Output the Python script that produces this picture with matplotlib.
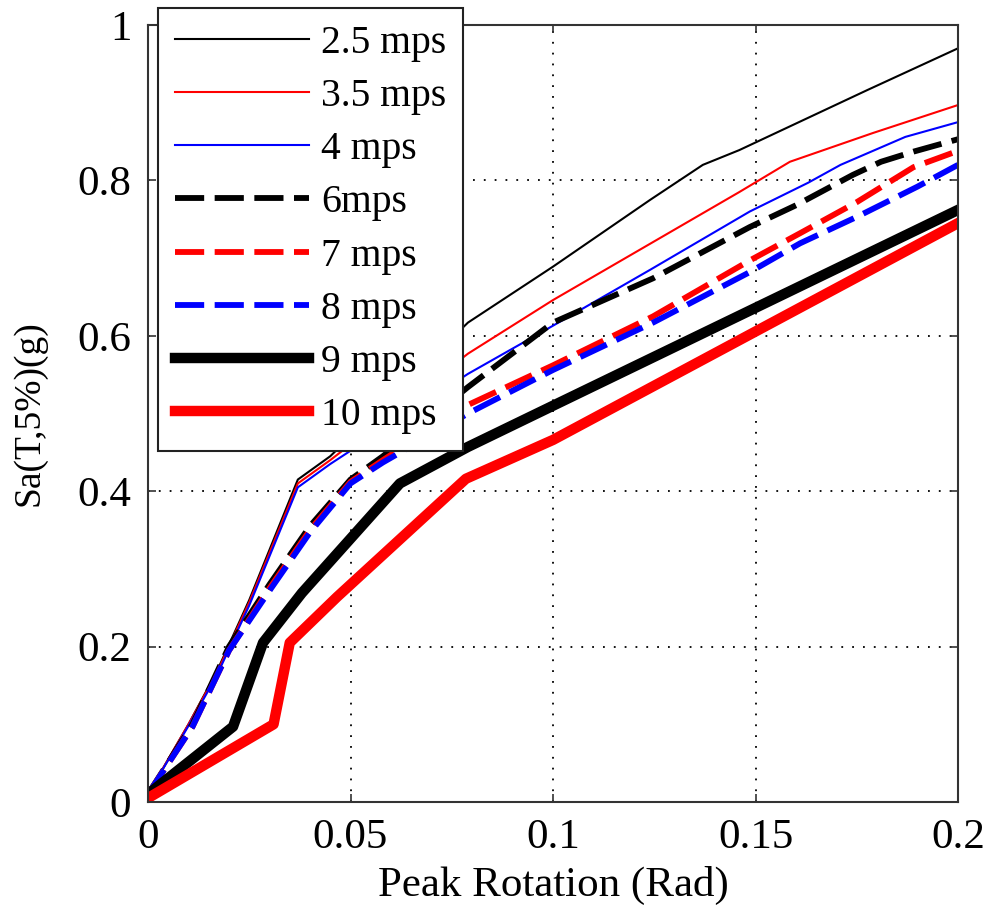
import matplotlib
matplotlib.use("Agg")
import matplotlib.pyplot as plt

plt.rcParams['font.family'] = ['Liberation Serif', 'DejaVu Serif']

# Sa(T,5%) vs peak rotation, one curve per wind speed
x_25 = [0, 0.01, 0.017, 0.025, 0.037, 0.045, 0.079, 0.1, 0.124, 0.137, 0.146, 0.1775, 0.2]
y_25 = [0.01, 0.1, 0.168, 0.26, 0.415, 0.445, 0.617, 0.689, 0.775, 0.82, 0.839, 0.916, 0.97]

x_35 = [0, 0.01, 0.017, 0.025, 0.037, 0.045, 0.079, 0.1, 0.146, 0.1585, 0.179, 0.2]
y_35 = [0.01, 0.1, 0.166, 0.257, 0.41, 0.44, 0.577, 0.646, 0.785, 0.824, 0.861, 0.897]

x_4 = [0, 0.01, 0.017, 0.025, 0.037, 0.045, 0.079, 0.1, 0.124, 0.1486, 0.163, 0.171, 0.187, 0.2]
y_4 = [0.01, 0.098, 0.163, 0.253, 0.405, 0.435, 0.551, 0.613, 0.685, 0.76, 0.797, 0.82, 0.856, 0.875]

x_6 = [0, 0.011, 0.02, 0.03, 0.04, 0.05, 0.058, 0.079, 0.1, 0.1247, 0.1486, 0.16, 0.174, 0.181, 0.189, 0.2]
y_6 = [0.01, 0.1, 0.2, 0.28, 0.355, 0.415, 0.445, 0.534, 0.617, 0.674, 0.74, 0.768, 0.807, 0.824, 0.837, 0.853]

x_7 = [0, 0.011, 0.02, 0.03, 0.04, 0.05, 0.058, 0.079, 0.1, 0.1247, 0.1486, 0.161, 0.175, 0.189, 0.2]
y_7 = [0.01, 0.097, 0.195, 0.275, 0.35, 0.412, 0.44, 0.511, 0.562, 0.625, 0.697, 0.732, 0.772, 0.817, 0.838]

x_8 = [0, 0.011, 0.02, 0.03, 0.04, 0.05, 0.058, 0.079, 0.1, 0.1247, 0.1486, 0.161, 0.175, 0.19, 0.2]
y_8 = [0.01, 0.097, 0.195, 0.272, 0.347, 0.41, 0.437, 0.50, 0.556, 0.617, 0.682, 0.719, 0.753, 0.792, 0.82]

x_9 = [0, 0.021, 0.0284, 0.038, 0.0622, 0.079, 0.1, 0.2]
y_9 = [0.01, 0.097, 0.205, 0.269, 0.41, 0.457, 0.51, 0.762]

x_10 = [0, 0.031, 0.035, 0.0467, 0.0785, 0.1, 0.2]
y_10 = [0.005, 0.10, 0.205, 0.264, 0.416, 0.466, 0.745]

labels = ['2.5 mps', '3.5 mps', '4 mps', '6mps', '7 mps', '8 mps', '9 mps', '10 mps']
xticks = [0, 0.05, 0.1, 0.15, 0.2]
xtick_labels = ['0', '0.05', '0.1', '0.15', '0.2']
yticks = [0, 0.2, 0.4, 0.6, 0.8, 1.0]
ytick_labels = ['0', '0.2', '0.4', '0.6', '0.8', '1']

fig = plt.figure(figsize=(9.9, 9.23), dpi=100)
ax = fig.add_axes([148/990, 1-802/923, (958-148)/990, (802-25)/923])

dash = (5.0, 1.8)
ax.plot(x_25, y_25, color='k', lw=1.5, label=labels[0])
ax.plot(x_35, y_35, color='#ff0000', lw=1.5, label=labels[1])
ax.plot(x_4, y_4, color='#0000ff', lw=1.5, label=labels[2])
ax.plot(x_6, y_6, color='k', lw=4.2, dashes=dash, label=labels[3])
ax.plot(x_7, y_7, color='#ff0000', lw=4.2, dashes=dash, label=labels[4])
ax.plot(x_8, y_8, color='#0000ff', lw=4.2, dashes=dash, label=labels[5])
ax.plot(x_9, y_9, color='k', lw=7.5, label=labels[6])
ax.plot(x_10, y_10, color='#ff0000', lw=7.5, label=labels[7])

ax.set_xlim(0, 0.2)
ax.set_ylim(0, 1)
ax.set_xticks(xticks)
ax.set_xticklabels(xtick_labels)
ax.set_yticks(yticks)
ax.set_yticklabels(ytick_labels)
ax.tick_params(direction='in', top=True, right=True, length=6, width=1.2,
               labelsize=31, pad=12, color='#333333')
ax.grid(True, color='k', linestyle=(0, (1, 5)), lw=1.3)
for s in ax.spines.values():
    s.set_color('#333333')
    s.set_linewidth(1.5)

ax.set_xlabel('Peak Rotation (Rad)', fontsize=31, labelpad=6)
ax.set_ylabel('Sa(T,5%)(g)', fontsize=27, labelpad=22)

leg = ax.legend(loc='upper left', bbox_to_anchor=(158/990, 1-8/923),
                bbox_transform=fig.transFigure, borderaxespad=0,
                fontsize=28.5, fancybox=False, framealpha=1, edgecolor='#222222',
                handlelength=3.4, handletextpad=0.3, labelspacing=0.41,
                borderpad=0.42)
leg.get_frame().set_linewidth(1.5)

fig.savefig('out.png', dpi=100)
